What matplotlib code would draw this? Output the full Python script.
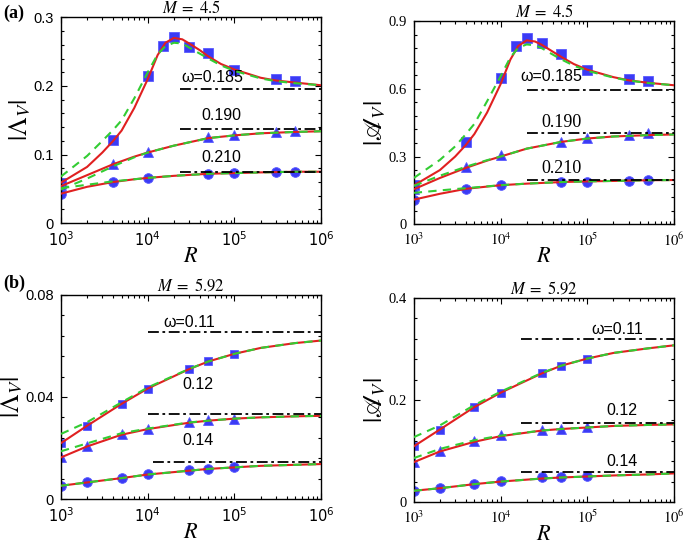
import numpy as np
import matplotlib
matplotlib.use('Agg')
from matplotlib import pyplot as plt
from matplotlib.ticker import LogLocator, MultipleLocator, NullFormatter

plt.rcParams['mathtext.fontset'] = 'stix'

#.......... DATA (a) M = 4.5 ..........
Ra_sq = [1e3, 4e3, 1e4, 1.5e4, 2e4, 3e4, 5e4, 1e5, 3e5, 5e5]
Ra_pt = [1e3, 4e3, 1e4, 5e4, 1e5, 3e5, 5e5]

# |Lambda_V| markers
aL_sq = [0.059, 0.121, 0.214, 0.259, 0.272, 0.257, 0.248, 0.224, 0.210, 0.207]
aL_tri = [0.055, 0.086, 0.104, 0.126, 0.129, 0.133, 0.135]
aL_cir = [0.043, 0.060, 0.066, 0.072, 0.073, 0.074, 0.074]

# curves for omega=0.185
Rc_pk = [1e3, 2e3, 3e3, 4e3, 5e3, 7e3, 1e4, 1.3e4, 1.6e4, 2e4, 2.5e4, 3e4, 4e4, 5e4, 7e4, 1e5, 2e5, 3e5, 5e5, 1e6]
aL_sq_red = [0.059, 0.082, 0.103, 0.120, 0.135, 0.168, 0.210, 0.245, 0.263, 0.270, 0.268, 0.262, 0.252, 0.243, 0.232, 0.224, 0.212, 0.208, 0.205, 0.201]
aL_sq_grn = [0.068, 0.098, 0.120, 0.136, 0.150, 0.182, 0.220, 0.246, 0.258, 0.263, 0.262, 0.256, 0.247, 0.240, 0.230, 0.222, 0.211, 0.207, 0.204, 0.201]
# curves for omega=0.190 / 0.210
Rc = [1e3, 2e3, 4e3, 7e3, 1e4, 2e4, 5e4, 1e5, 2e5, 5e5, 1e6]
aL_tri_red = [0.054, 0.070, 0.086, 0.097, 0.103, 0.113, 0.124, 0.128, 0.131, 0.133, 0.134]
aL_tri_grn = [0.049, 0.065, 0.083, 0.096, 0.103, 0.113, 0.124, 0.128, 0.131, 0.133, 0.134]
aL_cir_red = [0.043, 0.053, 0.060, 0.064, 0.066, 0.069, 0.072, 0.073, 0.074, 0.075, 0.075]
aL_cir_grn = [0.051, 0.056, 0.061, 0.064, 0.066, 0.069, 0.072, 0.073, 0.074, 0.075, 0.075]
aL_lim = [0.195, 0.137, 0.075]

# |A_V| markers
aA_sq = [0.176, 0.365, 0.647, 0.790, 0.827, 0.803, 0.756, 0.684, 0.644, 0.634]
aA_tri = [0.158, 0.254, 0.306, 0.366, 0.383, 0.396, 0.403]
aA_cir = [0.109, 0.157, 0.176, 0.188, 0.188, 0.193, 0.195]
aA_sq_red = [0.172, 0.240, 0.300, 0.352, 0.400, 0.495, 0.620, 0.730, 0.790, 0.815, 0.810, 0.795, 0.765, 0.742, 0.710, 0.685, 0.652, 0.638, 0.627, 0.616]
aA_sq_grn = [0.205, 0.285, 0.345, 0.400, 0.445, 0.545, 0.655, 0.740, 0.782, 0.797, 0.793, 0.780, 0.752, 0.731, 0.703, 0.680, 0.650, 0.637, 0.626, 0.616]
aA_tri_red = [0.155, 0.205, 0.250, 0.282, 0.300, 0.335, 0.365, 0.380, 0.389, 0.395, 0.398]
aA_tri_grn = [0.170, 0.215, 0.255, 0.284, 0.300, 0.335, 0.365, 0.380, 0.389, 0.395, 0.398]
aA_cir_red = [0.109, 0.135, 0.157, 0.167, 0.173, 0.180, 0.187, 0.190, 0.192, 0.195, 0.196]
aA_cir_grn = [0.139, 0.150, 0.160, 0.168, 0.173, 0.180, 0.187, 0.190, 0.192, 0.195, 0.196]
aA_lim = [0.597, 0.406, 0.198]

#.......... DATA (b) M = 5.92 ..........
Rb = [1e3, 2e3, 5e3, 1e4, 3e4, 5e4, 1e5]
Rbc = [1e3, 2e3, 5e3, 1e4, 3e4, 5e4, 1e5, 2e5, 5e5, 1e6]

bL_sq = [0.0219, 0.0287, 0.0373, 0.0433, 0.0509, 0.0539, 0.0569]
bL_tri = [0.0163, 0.0206, 0.0256, 0.0274, 0.0301, 0.0308, 0.0315]
bL_cir = [0.0052, 0.0065, 0.0082, 0.0098, 0.0112, 0.0119, 0.0125]
bL_sq_red = [0.0219, 0.0287, 0.0373, 0.0433, 0.0509, 0.0539, 0.0569, 0.0592, 0.0611, 0.0621]
bL_sq_grn = [0.0255, 0.0301, 0.0379, 0.0437, 0.0510, 0.0539, 0.0569, 0.0592, 0.0611, 0.0621]
bL_tri_red = [0.0163, 0.0206, 0.0252, 0.0274, 0.0299, 0.0307, 0.0315, 0.0320, 0.0324, 0.0326]
bL_tri_grn = [0.0187, 0.0218, 0.0258, 0.0276, 0.0300, 0.0307, 0.0315, 0.0320, 0.0324, 0.0326]
bL_cir_red = [0.0052, 0.0065, 0.0082, 0.0096, 0.0111, 0.0118, 0.0124, 0.0130, 0.0134, 0.0137]
bL_lim = [0.0653, 0.0333, 0.0144]

bA_sq = [0.109, 0.142, 0.186, 0.214, 0.252, 0.267, 0.281]
bA_tri = [0.078, 0.099, 0.119, 0.131, 0.141, 0.143, 0.147]
bA_cir = [0.022, 0.027, 0.036, 0.041, 0.049, 0.049, 0.050]
bA_sq_red = [0.109, 0.142, 0.186, 0.214, 0.252, 0.267, 0.281, 0.292, 0.301, 0.307]
bA_sq_grn = [0.127, 0.150, 0.190, 0.216, 0.253, 0.267, 0.281, 0.292, 0.301, 0.307]
bA_tri_red = [0.078, 0.099, 0.118, 0.129, 0.140, 0.143, 0.146, 0.149, 0.151, 0.152]
bA_tri_grn = [0.086, 0.104, 0.121, 0.130, 0.140, 0.143, 0.146, 0.149, 0.151, 0.152]
bA_cir_red = [0.022, 0.027, 0.035, 0.040, 0.046, 0.048, 0.050, 0.052, 0.054, 0.056]
bA_lim = [0.320, 0.155, 0.058]

# tick labels
xt_lab = [r'$10^3$', r'$10^4$', r'$10^5$', r'$10^6$']
yt_aL = ['0', '0.1', '0.2', '0.3']
yt_aA = ['0', '0.3', '0.6', '0.9']
yt_bL = ['0', '0.04', '0.08']
yt_bA = ['0', '0.2', '0.4']

BLUE = '#3b3bf5'
RED = '#e02020'
GREEN = '#33cc33'


def markers(ax, x, y, m, ms):
    ax.plot(x, y, ls='none', marker=m, ms=ms, mfc=BLUE, mec='#5a5aff', mew=0.6, zorder=2)


def curve(ax, x, red, green):
    ax.plot(x, red, color=RED, lw=1.5, zorder=3)
    ax.plot(x, green, color=GREEN, lw=1.5, ls=(0, (4, 3)), zorder=4)


def limit(ax, x0, y):
    ax.plot([x0, 1e6], [y, y], color='k', lw=1.3, ls=(0, (6, 2, 1.5, 2)), zorder=5)


def style(ax, ymaj, ylabs, serif):
    ax.set_xscale('log')
    ymax = ymaj * (len(ylabs) - 1)
    ax.set_yticks([ymaj * i for i in range(len(ylabs))], ylabs)
    ax.set_ylim(0, ymax)
    ax.yaxis.set_minor_locator(MultipleLocator(ymaj / 5))
    ax.set_xticks([1e3, 1e4, 1e5, 1e6], xt_lab)
    ax.xaxis.set_minor_locator(LogLocator(base=10, subs=np.arange(2, 10)))
    ax.xaxis.set_minor_formatter(NullFormatter())
    ax.set_xlim(1e3, 1e6)
    ax.tick_params(which='both', direction='in', top=True, right=True, width=0.8)
    ax.tick_params(which='major', length=4.5, labelsize=10.5)
    ax.tick_params(axis='x', which='major', pad=5)
    ax.tick_params(axis='y', which='major', pad=5)
    ax.tick_params(which='minor', length=2.5)
    fam = 'Liberation Serif' if serif else 'Liberation Sans'
    mf = 'stix' if serif else 'dejavusans'
    for lab in ax.get_xticklabels():
        lab.set_math_fontfamily(mf)
        lab.set_fontfamily(fam)
    for lab in ax.get_yticklabels():
        lab.set_fontfamily(fam)
    ax.set_xlabel(r'$R$', fontsize=16, labelpad=-2)
    for s in ax.spines.values():
        s.set_linewidth(1.0)


fig = plt.figure(figsize=(6.85, 5.43), dpi=100)
ax1 = fig.add_axes([0.089, 0.589, 0.380, 0.379])
ax2 = fig.add_axes([0.604, 0.587, 0.380, 0.374])
ax3 = fig.add_axes([0.089, 0.081, 0.380, 0.376])
ax4 = fig.add_axes([0.604, 0.0755, 0.380, 0.376])

TITLE_A = r'$M\;=\;4.5$'
TITLE_B = r'$M\;=\;5.92$'
YLAB_L = r'$|\mathit{Λ}_V|$'
YLAB_A = r'$|\mathscr{A}_V|$'

# (a) left
markers(ax1, Ra_sq, aL_sq, 's', 6.5)
markers(ax1, Ra_pt, aL_tri, '^', 7)
markers(ax1, Ra_pt, aL_cir, 'o', 7)
curve(ax1, Rc_pk, aL_sq_red, aL_sq_grn)
curve(ax1, Rc, aL_tri_red, aL_tri_grn)
curve(ax1, Rc, aL_cir_red, aL_cir_grn)
for v in aL_lim:
    limit(ax1, 2.35e4, v)
style(ax1, 0.1, yt_aL, False)
ax1.set_ylabel(YLAB_L, fontsize=19, labelpad=0)
ax1.text(5.5e4, 0.206, 'ω=0.185', fontsize=11.5, ha='center', family='Liberation Sans')
ax1.text(7.1e4, 0.150, '0.190', fontsize=11.5, ha='center', family='Liberation Sans')
ax1.text(7.1e4, 0.089, '0.210', fontsize=11.5, ha='center', family='Liberation Sans')
ax1.set_title(TITLE_A, fontsize=12, pad=1)

# (a) right
markers(ax2, Ra_sq, aA_sq, 's', 6.5)
markers(ax2, Ra_pt, aA_tri, '^', 7)
markers(ax2, Ra_pt, aA_cir, 'o', 7)
curve(ax2, Rc_pk, aA_sq_red, aA_sq_grn)
curve(ax2, Rc, aA_tri_red, aA_tri_grn)
curve(ax2, Rc, aA_cir_red, aA_cir_grn)
for v in aA_lim:
    limit(ax2, 2e4, v)
style(ax2, 0.3, yt_aA, True)
ax2.set_ylabel(YLAB_A, fontsize=19, labelpad=0)
ax2.text(3.9e4, 0.635, 'ω=0.185', fontsize=11.5, ha='center', family='Liberation Sans')
ax2.text(5e4, 0.43, '0.190', fontsize=13, ha='center', family='Liberation Serif')
ax2.text(5e4, 0.228, '0.210', fontsize=13, ha='center', family='Liberation Serif')
ax2.set_title(TITLE_A, fontsize=12, pad=1)

# (b) left
markers(ax3, Rb, bL_sq, 's', 6)
markers(ax3, Rb, bL_tri, '^', 7)
markers(ax3, Rb, bL_cir, 'o', 7)
curve(ax3, Rbc, bL_sq_red, bL_sq_grn)
curve(ax3, Rbc, bL_tri_red, bL_tri_grn)
curve(ax3, Rbc, bL_cir_red, bL_cir_red)
limit(ax3, 1e4, bL_lim[0])
limit(ax3, 1e4, bL_lim[1])
limit(ax3, 1.15e4, bL_lim[2])
style(ax3, 0.04, yt_bL, False)
ax3.set_ylabel(YLAB_L, fontsize=19, labelpad=0)
ax3.text(3e4, 0.0675, 'ω=0.11', fontsize=11.5, ha='center', family='Liberation Sans')
ax3.text(3.8e4, 0.0432, '0.12', fontsize=11.5, ha='center', family='Liberation Sans')
ax3.text(3.8e4, 0.021, '0.14', fontsize=11.5, ha='center', family='Liberation Sans')
ax3.set_title(TITLE_B, fontsize=12, pad=1)

# (b) right
markers(ax4, Rb, bA_sq, 's', 6)
markers(ax4, Rb, bA_tri, '^', 7)
markers(ax4, Rb, bA_cir, 'o', 7)
curve(ax4, Rbc, bA_sq_red, bA_sq_grn)
curve(ax4, Rbc, bA_tri_red, bA_tri_grn)
curve(ax4, Rbc, bA_cir_red, bA_cir_red)
for v in bA_lim:
    limit(ax4, 1.74e4, v)
style(ax4, 0.2, yt_bA, True)
ax4.set_ylabel(YLAB_A, fontsize=19, labelpad=0)
ax4.text(2.2e5, 0.329, 'ω=0.11', fontsize=11.5, ha='center', family='Liberation Sans')
ax4.text(2.5e5, 0.170, '0.12', fontsize=11.5, ha='center', family='Liberation Sans')
ax4.text(2.5e5, 0.070, '0.14', fontsize=11.5, ha='center', family='Liberation Sans')
ax4.set_title(TITLE_B, fontsize=12, pad=1)

fig.text(0.005, 0.975, '(a)', fontsize=13, weight='bold', family='Liberation Serif', va='center')
fig.text(0.005, 0.478, '(b)', fontsize=13, weight='bold', family='Liberation Serif', va='center')

fig.savefig('out.png', dpi=100)
